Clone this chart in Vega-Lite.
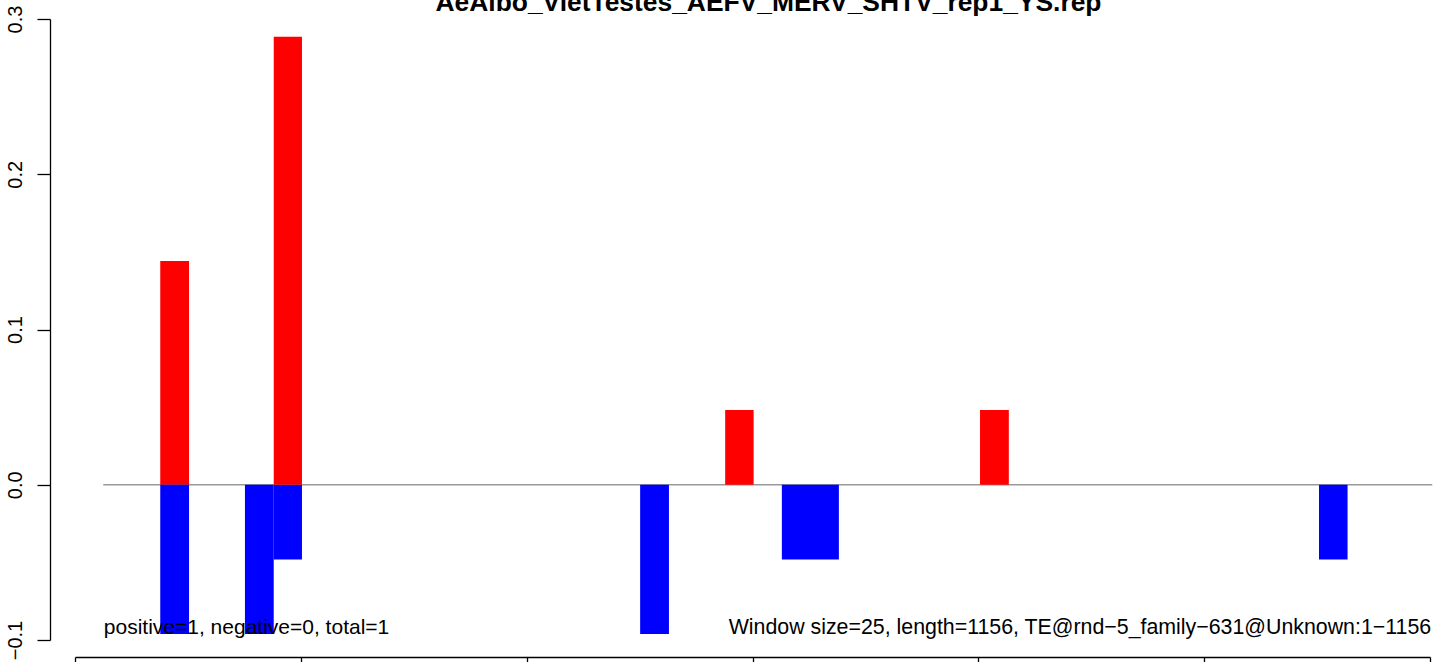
{
  "$schema": "https://vega.github.io/schema/vega-lite/v6.json",
  "width": 1355,
  "height": 621,
  "autosize": {"type": "none"},
  "padding": {"left": 75, "top": 19, "right": 11, "bottom": 22},
  "background": "white",
  "config": {"view": {"stroke": null}, "font": "Liberation Sans"},
  "title": {
    "text": "AeAlbo_VietTestes_AEFV_MERV_SHTV_rep1_YS.rep",
    "fontSize": 26.4,
    "fontWeight": "bold",
    "font": "Liberation Sans",
    "anchor": "middle",
    "frame": "group",
    "baseline": "alphabetic",
    "offset": 0,
    "dx": 16,
    "dy": 32,
    "color": "black"
  },
  "datasets": {
    "bars": [
      {"start": 75.5, "end": 101, "value": 0.1442, "sign": "positive"},
      {"start": 75.5, "end": 101, "value": -0.0962, "sign": "negative"},
      {"start": 150.5, "end": 176, "value": -0.0962, "sign": "negative"},
      {"start": 176, "end": 201, "value": -0.0481, "sign": "negative"},
      {"start": 176, "end": 201, "value": 0.2886, "sign": "positive"},
      {"start": 500.5, "end": 526, "value": -0.0962, "sign": "negative"},
      {"start": 575.8, "end": 601, "value": 0.0481, "sign": "positive"},
      {"start": 626, "end": 676.5, "value": -0.0481, "sign": "negative"},
      {"start": 801.5, "end": 827, "value": 0.0481, "sign": "positive"},
      {"start": 1101.7, "end": 1127, "value": -0.0481, "sign": "negative"}
    ],
    "zero": [{"start": 25, "end": 1202, "value": 0}],
    "leftText": [{"start": 25.5, "value": -0.0962, "label": "positive=1, negative=0, total=1"}],
    "rightText": [{"start": 1201, "value": -0.0962, "label": "Window size=25, length=1156, TE@rnd−5_family−631@Unknown:1−1156"}]
  },
  "encoding": {
    "x": {
      "field": "start",
      "type": "quantitative",
      "scale": {"domain": [0, 1200], "nice": false, "zero": false},
      "axis": {
        "values": [0, 200, 400, 600, 800, 1000, 1200],
        "labels": false,
        "title": null,
        "grid": false,
        "offset": 17,
        "tickSize": 13,
        "domainColor": "black",
        "tickColor": "black",
        "domainWidth": 1.3,
        "tickWidth": 1.3
      }
    },
    "y": {
      "field": "value",
      "type": "quantitative",
      "scale": {"domain": [-0.1, 0.3], "nice": false, "zero": false},
      "axis": {
        "values": [-0.1, 0, 0.1, 0.2, 0.3],
        "format": ".1f",
        "title": null,
        "grid": false,
        "offset": 25,
        "tickSize": 13,
        "labelAngle": 270,
        "labelAlign": "center",
        "labelBaseline": "alphabetic",
        "labelPadding": 16,
        "labelFontSize": 20,
        "labelFont": "Liberation Sans",
        "labelColor": "black",
        "labelFlush": false,
        "labelOverlap": false,
        "domainColor": "black",
        "tickColor": "black",
        "domainWidth": 1.3,
        "tickWidth": 1.3
      }
    }
  },
  "layer": [
    {
      "data": {"name": "zero"},
      "mark": {"type": "rule", "color": "#999999", "strokeWidth": 1.3},
      "encoding": {"x2": {"field": "end"}}
    },
    {
      "data": {"name": "bars"},
      "mark": {"type": "rect"},
      "encoding": {
        "x2": {"field": "end"},
        "y2": {"datum": 0},
        "color": {
          "field": "sign",
          "type": "nominal",
          "scale": {"domain": ["positive", "negative"], "range": ["#ff0000", "#0000ff"]},
          "legend": null
        }
      }
    },
    {
      "data": {"name": "leftText"},
      "mark": {"type": "text", "align": "left", "baseline": "alphabetic", "fontSize": 21, "font": "Liberation Sans", "color": "black"},
      "encoding": {"text": {"field": "label"}}
    },
    {
      "data": {"name": "rightText"},
      "mark": {"type": "text", "align": "right", "baseline": "alphabetic", "fontSize": 21.35, "font": "Liberation Sans", "color": "black"},
      "encoding": {"text": {"field": "label"}}
    }
  ]
}
